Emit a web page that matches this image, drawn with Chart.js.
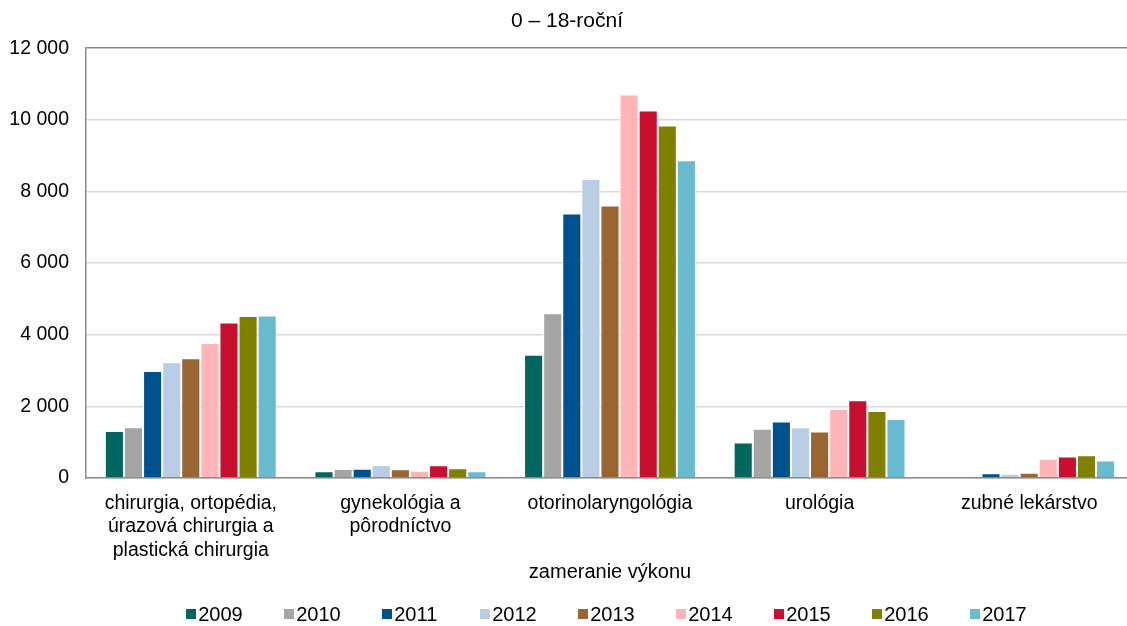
<!DOCTYPE html>
<html><head><meta charset="utf-8">
<script src="https://cdn.jsdelivr.net/npm/chart.js@4.4.1/dist/chart.umd.min.js"></script>
<style>
html,body{margin:0;padding:0;background:#fff;overflow:hidden}
#wrap{position:relative;width:1127px;height:626px;overflow:hidden;background:#fff}
#c{position:absolute;left:0;top:0}
#legend{position:absolute;left:0;top:602px;width:1134px;box-sizing:border-box;padding-left:79px;display:flex;justify-content:center;font-family:'Liberation Sans',Arial,sans-serif;font-size:20px;line-height:24px;color:#000}
.li{display:flex;align-items:center;width:98px;white-space:nowrap}
.li:last-child{width:auto}
.sw{width:10px;height:10px;margin-right:2px;flex:none}
</style></head><body>
<div id="wrap"><canvas id="c" width="1134" height="626"></canvas><div id="legend"></div></div>
<script>
const chartTitle = '0 – 18-roční';
const axisTitle = 'zameranie výkonu';
const categories = [
  ['chirurgia, ortopédia,', 'úrazová chirurgia a', 'plastická chirurgia'],
  ['gynekológia a', 'pôrodníctvo'],
  'otorinolaryngológia',
  'urológia',
  'zubné lekárstvo'
];
const years = ['2009', '2010', '2011', '2012', '2013', '2014', '2015', '2016', '2017'];
const v2009 = [1310, 190, 3440, 990, null];
const v2010 = [1420, 250, 4600, 1375, null];
const v2011 = [2985, 260, 7385, 1580, 130];
const v2012 = [3230, 365, 8345, 1420, 120];
const v2013 = [3340, 245, 7605, 1300, 150];
const v2014 = [3770, 205, 10710, 1925, 535];
const v2015 = [4345, 355, 10260, 2170, 600];
const v2016 = [4520, 270, 9840, 1870, 635];
const v2017 = [4540, 190, 8875, 1645, 490];
const yTickValues = [0, 2000, 4000, 6000, 8000, 10000, 12000];

const seriesValues = [v2009, v2010, v2011, v2012, v2013, v2014, v2015, v2016, v2017];
const colors = ['#00665e', '#a5a5a5', '#00528f', '#b9cde5', '#996633', '#ffb5b8', '#c80f30', '#7f7f00', '#6bbbd0'];

const FONT = "'Liberation Sans', Arial, sans-serif";
Chart.defaults.font.family = FONT;
Chart.defaults.color = '#000';

const fmt = v => String(v).replace(/\B(?=(\d{3})+(?!\d))/g, ' ');

const chart = new Chart(document.getElementById('c'), {
  type: 'bar',
  data: {
    labels: categories,
    datasets: years.map((y, i) => ({
      label: y,
      data: seriesValues[i],
      backgroundColor: colors[i],
      borderColor: '#ffffff',
      borderWidth: 1,
      categoryPercentage: 0.82,
      barPercentage: 1.0
    }))
  },
  options: {
    responsive: false,
    devicePixelRatio: 1,
    animation: false,
    layout: { padding: { left: 0, right: 0, top: 0, bottom: 42 } },
    plugins: {
      legend: { display: false },
      tooltip: { enabled: false },
      title: {
        display: true,
        text: chartTitle,
        color: '#000',
        font: { size: 21, weight: 'normal', lineHeight: 1.2 },
        padding: { top: 9, bottom: 14 }
      }
    },
    scales: {
      x: {
        grid: { display: false, drawTicks: false },
        border: { display: true, color: '#898989', width: 1.5 },
        afterFit: axis => { axis.height = 106; axis.paddingLeft = 0; axis.paddingRight = 0; },
        ticks: {
          autoSkip: false, maxRotation: 0, minRotation: 0,
          padding: 14,
          color: '#000',
          font: { size: 19.5, lineHeight: 1.195 }
        },
        title: {
          display: true,
          text: axisTitle,
          color: '#000',
          font: { size: 20, lineHeight: 1.2 },
          padding: { top: 4, bottom: 0 }
        }
      },
      y: {
        min: 0, max: 12000,
        afterBuildTicks: axis => { axis.ticks = yTickValues.map(v => ({ value: v })); },
        afterFit: axis => { axis.width = 86; },
        grid: {
          drawTicks: false,
          color: ctx => (ctx.tick && ctx.tick.value === 12000) ? '#898989' : '#d9d9d9',
          lineWidth: 1.5
        },
        border: { display: true, color: '#898989', width: 1.5 },
        ticks: {
          padding: 17,
          color: '#000',
          font: { size: 19.5 },
          callback: v => fmt(v)
        }
      }
    }
  }
});

const legendEl = document.getElementById('legend');
chart.options.plugins.legend.labels.generateLabels(chart).forEach(item => {
  const li = document.createElement('div');
  li.className = 'li';
  const sw = document.createElement('span');
  sw.className = 'sw';
  sw.style.background = item.fillStyle;
  const tx = document.createElement('span');
  tx.textContent = item.text;
  li.appendChild(sw);
  li.appendChild(tx);
  legendEl.appendChild(li);
});
</script>
</body></html>
